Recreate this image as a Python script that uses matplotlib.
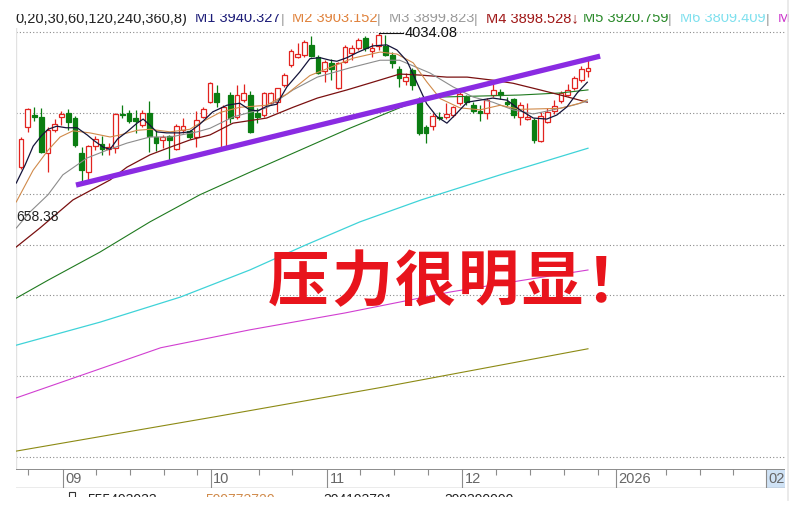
import matplotlib
matplotlib.use("Agg")
import matplotlib.pyplot as plt
from matplotlib.patches import Rectangle
from matplotlib.lines import Line2D

plt.rcParams['font.family'] = ['Liberation Sans', 'DejaVu Sans']

W, H = 800, 509

# daily bars (bar 0 = first bar on the left)
opens = [3771, 3849, 3872, 3869, 3799, 3844, 3869, 3877, 3867, 3799,
         3762, 3812, 3816, 3807, 3808, 3875, 3877, 3867, 3853, 3877,
         3830, 3824, 3831, 3807, 3844, 3841, 3830, 3870, 3898, 3916,
         3809, 3912, 3869, 3902, 3912, 3877, 3873, 3896, 3898, 3932,
         3971, 3987, 3990, 4010, 3986, 3958, 3975, 3926, 3977, 3994,
         4004, 4024, 3999, 4007, 4008, 3990, 3963, 3939, 3961, 3898,
         3849, 3851, 3869, 3869, 3873, 3896, 3908, 3892, 3881, 3877,
         3912, 3917, 3898, 3904, 3870, 3866, 3863, 3823, 3860, 3880,
         3900, 3912, 3926, 3941, 3959]
highs = [3830, 3887, 3889, 3887, 3849, 3865, 3881, 3885, 3871, 3810,
         3814, 3832, 3832, 3818, 3877, 3892, 3883, 3883, 3883, 3900,
         3844, 3834, 3834, 3855, 3867, 3844, 3881, 3889, 3938, 3932,
         3892, 3918, 3932, 3934, 3920, 3887, 3918, 3918, 3926, 3955,
         4002, 4014, 4019, 4027, 3990, 3980, 3982, 3977, 4010, 4010,
         4023, 4027, 4014, 4034.08, 4030, 3996, 3969, 3955, 3965, 3908,
         3853, 3877, 3879, 3896, 3891, 3918, 3912, 3898, 3892, 3906,
         3934, 3924, 3908, 3906, 3898, 3896, 3867, 3879, 3887, 3902,
         3920, 3933, 3949, 3969, 3980]
lows = [3767, 3840, 3861, 3799, 3762, 3840, 3853, 3844, 3810, 3740,
        3742, 3805, 3795, 3795, 3799, 3867, 3857, 3838, 3849, 3801,
        3803, 3808, 3785, 3805, 3838, 3826, 3810, 3867, 3896, 3889,
        3807, 3857, 3865, 3898, 3838, 3857, 3869, 3892, 3879, 3928,
        3967, 3984, 3986, 3986, 3953, 3937, 3941, 3924, 3975, 3980,
        4000, 3998, 3986, 4000, 3988, 3965, 3928, 3932, 3922, 3834,
        3818, 3844, 3863, 3865, 3869, 3892, 3892, 3876, 3861, 3865,
        3908, 3904, 3890, 3867, 3853, 3863, 3818, 3820, 3857, 3875,
        3896, 3910, 3922, 3937, 3947]
closes = [3826, 3885, 3870, 3801, 3844, 3855, 3875, 3859, 3814, 3765,
          3812, 3826, 3807, 3811, 3875, 3872, 3861, 3861, 3877, 3832,
          3818, 3829, 3824, 3851, 3852, 3830, 3863, 3884, 3935, 3898,
          3889, 3867, 3912, 3916, 3840, 3869, 3915, 3915, 3925, 3951,
          3998, 3992, 4016, 3988, 3956, 3977, 3963, 3974, 4006, 4003,
          4019, 4004, 4003, 4030, 3991, 3974, 3945, 3947, 3932, 3837,
          3838, 3871, 3867, 3875, 3889, 3914, 3899, 3880, 3877, 3902,
          3922, 3912, 3895, 3873, 3892, 3869, 3824, 3871, 3879, 3890,
          3916, 3922, 3945, 3963, 3965]

# moving averages, sampled along each line (bar position, price)
ma5_x = [-0.7, 0.6, 1.8, 3.0, 4.0, 5.3, 6.7, 8.3, 9.8, 10.8, 12.2, 13.2, 14.3, 15.7,
         17.2, 18.1, 19.1, 20.1, 21.6, 23.6, 25.0, 26.5, 28.4, 30.5, 32.4, 33.9, 35.1,
         36.4, 37.9, 39.4, 41.3, 42.8, 44.3, 45.8, 46.8, 48.3, 49.8, 52.1, 54.2, 55.7,
         57.2, 58.7, 60.1, 61.6, 63.1, 64.6, 66.1, 68.0, 69.9, 72.0, 73.9, 75.9, 77.9,
         79.4, 80.9, 82.4, 83.9]
ma5_y = [3740, 3775, 3812, 3832, 3845, 3851, 3848, 3848, 3834, 3823, 3810, 3806, 3826, 3840,
         3857, 3865, 3853, 3840, 3838, 3838, 3840, 3855, 3879, 3892, 3896, 3883, 3881,
         3890, 3894, 3928, 3957, 3983, 3985, 3980, 3978, 3985, 3995, 4008, 4010, 4000,
         3978, 3935, 3895, 3870, 3857, 3877, 3898, 3902, 3906, 3902, 3883, 3867, 3865,
         3873, 3889, 3916, 3937]
ma10_x = [-0.7, 1.8, 4.0, 5.8, 7.7, 10.2, 13.2, 14.7, 17.2, 19.1, 22.1, 25.0, 26.5, 29.5,
          32.4, 36.4, 39.4, 42.8, 46.2, 49.2, 53.2, 55.7, 58.1, 60.1, 62.1, 65.0, 68.0,
          71.0, 73.9, 76.9, 79.9, 82.8, 83.9]
ma10_y = [3703, 3765, 3804, 3830, 3842, 3838, 3830, 3834, 3843, 3845, 3840, 3845, 3857, 3878,
          3888, 3892, 3914, 3950, 3968, 3984, 3996, 3992, 3975, 3938, 3905, 3887, 3883,
          3892, 3884, 3885, 3886, 3896, 3903]
ma20_x = [-0.7, 1.3, 4.0, 6.2, 9.8, 12.7, 15.7, 19.1, 22.1, 26.1, 28.0, 31.4, 36.4, 40.3,
          43.9, 48.7, 53.2, 56.1, 60.6, 64.0, 67.0, 69.9, 72.9, 75.9, 78.8, 81.8, 83.9]
ma20_y = [3652, 3683, 3717, 3756, 3789, 3804, 3818, 3830, 3830, 3840, 3847, 3869, 3887, 3922,
          3947, 3965, 3980, 3980, 3955, 3928, 3908, 3898, 3883, 3875, 3883, 3892, 3900]
ma30_x = [-0.7, 2.8, 7.7, 13.2, 15.7, 19.1, 22.1, 25.0, 28.0, 31.4, 36.4, 40.3, 43.9, 48.3,
          52.1, 56.1, 59.1, 63.1, 66.1, 69.9, 72.9, 76.9, 79.9, 83.9]
ma30_y = [3615, 3652, 3707, 3746, 3771, 3795, 3810, 3824, 3834, 3857, 3867, 3888, 3906, 3922,
          3937, 3953, 3951, 3947, 3947, 3941, 3935, 3922, 3912, 3898]
ma60_x = [-0.7, 4.0, 11.7, 19.1, 26.5, 33.9, 41.3, 48.7, 56.1, 59.1, 62.1, 68.0, 73.9, 79.9, 84.0]
ma60_y = [3515, 3550, 3605, 3664, 3717, 3761, 3804, 3847, 3887, 3902, 3908, 3910, 3912, 3916, 3922]
ma120_x = [-0.7, 11.7, 23.6, 33.9, 42.2, 50.2, 59.3, 71.0, 84.0]
ma120_y = [3423, 3468, 3517, 3570, 3619, 3664, 3707, 3756, 3808]
ma240_x = [-0.7, 20.7, 33.9, 48.0, 63.6, 73.9, 84.0]
ma240_y = [3320, 3418, 3453, 3486, 3527, 3549, 3570]
ma360_x = [-0.7, 28.7, 53.6, 84.0]
ma360_y = [3216, 3283, 3341, 3416]

trend_x = [8.15, 85.8]
trend_y = [3736, 3988]

grid_levels = [4035, 3877, 3718, 3619, 3521, 3363, 3205]

month_pos = [6.2, 28.1, 45.3, 65.3, 88.1, 110.4]
month_labels = ["09", "10", "11", "12", "2026", "02"]
week_pos = [1.0, 11.1, 16.1, 21.2, 26.1, 35.3, 40.1, 50.2, 55.3, 60.3,
            70.4, 75.4, 80.4, 85.5, 95.6, 100.6, 105.5]

legend_texts = ["0,20,30,60,120,240,360,8)", "M1 3940.327", "|", "M2 3903.152", "|",
                "M3 3899.823", "|", "M4 3898.528\u2193", "M5 3920.759", "|",
                "M6 3809.409", "|", "M"]
legend_colors = ["#222222", "#1c1c78", "#999999", "#e0823c", "#999999",
                 "#9a9a9a", "#999999", "#a01818", "#2a8a2a", "#999999",
                 "#7fe0ee", "#999999", "#cc33cc"]
legend_xpx = [15, 195, 281, 292, 377, 389, 474, 486, 583, 668, 680, 766, 778]

note = "压力很明显！"

RED = "#e2231f"
GREEN = "#0b7d12"
XLIM = (-0.74, 113.19)


def fx(x):
    return x / W


def fy(y):
    return 1 - y / H


fig = plt.figure(figsize=(W / 100, H / 100), dpi=100)
fig.patch.set_facecolor("white")

# main price panel
ax = fig.add_axes([fx(16), fy(469), (785 - 16) / W, (469 - 28) / H])
ax.set_xlim(*XLIM)
ax.set_ylim(3181, 4043)
ax.axis("off")

ax.hlines(grid_levels, XLIM[0], XLIM[1], colors="#8a8a8a", lw=0.8,
          linestyles=(0, (1, 2)), zorder=1)
ax.axvline(XLIM[0], color="#e2e2e2", lw=1.0, zorder=1)

# candles
for i in range(len(opens)):
    o, h, l, c = opens[i], highs[i], lows[i], closes[i]
    up = c >= o
    col = RED if up else GREEN
    top, bot = max(o, c), min(o, c)
    ax.vlines(i, top, h, color=col, lw=0.9, zorder=3)
    ax.vlines(i, l, bot, color=col, lw=0.9, zorder=3)
    ax.add_patch(Rectangle((i - 0.34, bot), 0.68, max(top - bot, 1.5),
                           facecolor="white" if up else col, edgecolor=col,
                           lw=0.9, zorder=3))

# moving averages
ax.plot(ma360_x, ma360_y, color="#8c8a14", lw=0.8, zorder=4)
ax.plot(ma240_x, ma240_y, color="#d13fd1", lw=0.8, zorder=4)
ax.plot(ma120_x, ma120_y, color="#3fd3d8", lw=0.9, zorder=4)
ax.plot(ma60_x, ma60_y, color="#1f7a1f", lw=0.8, zorder=4)
ax.plot(ma30_x, ma30_y, color="#7a1010", lw=0.9, zorder=4)
ax.plot(ma20_x, ma20_y, color="#8c8c8c", lw=0.8, zorder=4)
ax.plot(ma10_x, ma10_y, color="#d08a4a", lw=0.8, zorder=4)
ax.plot(ma5_x, ma5_y, color="#14143a", lw=0.9, zorder=4)

# resistance line
ax.plot(trend_x, trend_y, color="#8a2be2", lw=3.8, solid_capstyle="butt", zorder=5)

# highest price marker
top_i = highs.index(max(highs))
ax.plot([top_i, top_i + 3.6], [max(highs)] * 2, color="#111111", lw=0.8, zorder=5)
ax.text(top_i + 3.9, max(highs), f"{max(highs):.2f}", fontsize=10.5, color="#111111",
        va="center", ha="left", zorder=6)

fig.text(fx(16), fy(217), "658.38", fontsize=10, color="#222222", va="center", ha="left")

# big red note, one glyph at a time for the wide spacing
for k, ch in enumerate(note):
    fig.text(fx(298 + 63.5 * k), fy(283), ch, fontsize=44, color="#e8141c",
             fontweight="bold", family=["Noto Sans CJK SC", "DejaVu Sans"],
             ha="center", va="center")

# date strip
axd = fig.add_axes([fx(16), fy(488), (785 - 16) / W, (488 - 469) / H])
axd.set_xlim(*XLIM)
axd.set_ylim(0, 1)
axd.axis("off")
axd.add_patch(Rectangle((month_pos[-1], 0), XLIM[1] - month_pos[-1], 1,
                        facecolor="#cfe2f5", edgecolor="none", zorder=0))
axd.axhline(1, color="#8c8c8c", lw=1.4)
axd.axhline(0, color="#9a9a9a", lw=1.0)
axd.vlines(month_pos, 0, 1, colors="#8c8c8c", lw=0.8)
axd.vlines(week_pos, 0.7, 1, colors="#8c8c8c", lw=0.8)
for pos, lab in zip(month_pos, month_labels):
    axd.text(pos + 0.4, 0.45, lab, fontsize=10.5, color="#666666", va="center", ha="left")

# header (indicator values), clipped at the top like the screenshot
axh = fig.add_axes([0, fy(30), 1, (30 - 14) / H])
axh.set_xlim(0, W)
axh.set_ylim(30, 14)
axh.axis("off")
for x, s, col in zip(legend_xpx, legend_texts, legend_colors):
    axh.text(x, 22.5, s, fontsize=10.5, color=col, va="baseline", ha="left", clip_on=True)

# cut-off volume line at the very bottom
axb = fig.add_axes([0, fy(497), 1, (497 - 489) / H])
axb.set_xlim(0, W)
axb.set_ylim(497, 489)
axb.axis("off")
axb.add_patch(Rectangle((69, 492), 6, 7, fill=False, edgecolor="#333333", lw=0.8))
for x, s, col in [(87, "555493033", "#222222"), (205, "599773720", "#d08a4a"),
                  (323, "304193701", "#222222"), (444, "399390000", "#222222")]:
    axb.text(x, 504, s, fontsize=10, color=col, va="baseline", ha="left", clip_on=True)

fig.add_artist(Line2D([fx(788), fx(788)], [fy(500), fy(0)], color="#e6e6e6", lw=1.2))

fig.savefig("out.png", dpi=100)
